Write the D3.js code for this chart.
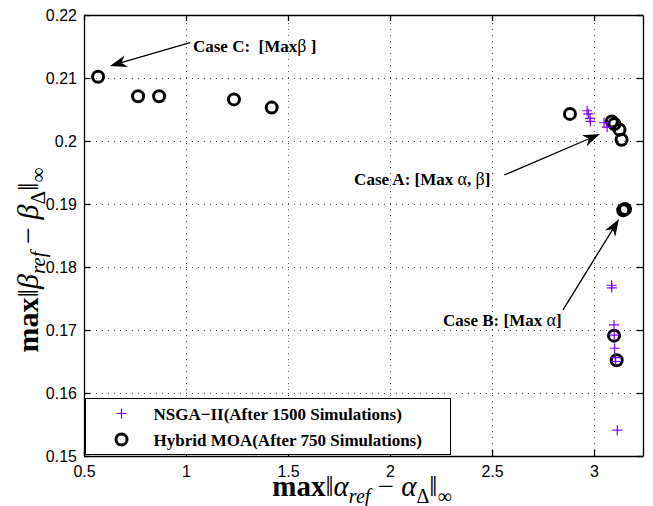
<!DOCTYPE html>
<html>
<head>
<meta charset="utf-8">
<script src="https://cdn.jsdelivr.net/npm/d3@7"></script>
<style>
body { margin: 0; background: #fff; }
svg { display: block; background: #fff; }
.axis text { font-family: "Liberation Sans", Arial, sans-serif; font-size: 16px; fill: #000; }
.axis path, .axis line { stroke: #000; stroke-width: 1.3; }
.grid line { stroke: #555; stroke-width: 1; stroke-dasharray: 1,5; }
.anno { font-family: "Liberation Serif", "Times New Roman", serif; font-size: 17px; font-weight: bold; white-space: pre; }
.legend_label { font-family: "Liberation Serif", "Times New Roman", serif; font-size: 17px; font-weight: bold; }
.axlabel { font-family: "Liberation Serif", "Times New Roman", serif; font-size: 29px; }
</style>
</head>
<body>
<div id="Chart"></div>
<script>
// NSGA-II (after 1500 simulations)
var nsgaX = [2.966, 2.972, 2.98, 2.982, 3.049, 3.064, 3.086, 3.087, 3.098, 3.099, 3.101, 3.104, 3.106, 3.114];
var nsgaY = [0.2048, 0.2043, 0.2036, 0.2031, 0.2029, 0.2022, 0.1771, 0.1767, 0.1708, 0.1692, 0.1671, 0.1656, 0.1650, 0.1541];
// Hybrid MOA (after 750 simulations)
var moaX = [0.569, 0.765, 0.868, 1.235, 1.42, 2.882, 3.087, 3.1, 3.125, 3.135, 3.143, 3.152, 3.098, 3.111];
var moaY = [0.2102, 0.2071, 0.2071, 0.2066, 0.2053, 0.2043, 0.2031, 0.2027, 0.2018, 0.2002, 0.1890, 0.1892, 0.1691, 0.1652];

var xTicks = [0.5, 1, 1.5, 2, 2.5, 3];
var xTickLabels = ["0.5", "1", "1.5", "2", "2.5", "3"];
var yTicks = [0.15, 0.16, 0.17, 0.18, 0.19, 0.2, 0.21, 0.22];
var yTickLabels = ["0.15", "0.16", "0.17", "0.18", "0.19", "0.2", "0.21", "0.22"];

var seriesNames = ["NSGA\u2212II(After 1500 Simulations)", "Hybrid MOA(After 750 Simulations)"];

// annotations (data coordinates)
var annoText = ["Case C:  [Max|\u03b2| ]", "Case A: [Max |\u03b1|, |\u03b2|]", "Case B: [Max |\u03b1|]"];
var annoX = [1.034, 1.824, 2.26];
var annoY = [0.2141, 0.1930, 0.1706];
var arrowFromX = [1.02, 2.56, 2.848];
var arrowFromY = [0.2156, 0.1946, 0.1732];
var arrowToX = [0.627, 3.029, 3.1225];
var arrowToY = [0.2119, 0.2011, 0.1876];

var margin = {top: 15, right: 10, bottom: 50, left: 84},
    width = 643 - margin.left,
    height = 456 - margin.top;

var svg = d3.select("#Chart")
            .append("svg")
            .attr("width", 653)
            .attr("height", 506);

var x = d3.scaleLinear().domain([0.5, 3.24]).range([0, width]);
var y = d3.scaleLinear().domain([0.15, 0.22]).range([height, 0]);

var g = svg.append("g")
           .attr("transform", "translate(" + margin.left + "," + margin.top + ")");

// dotted grid
g.append("g")
 .attr("class", "grid")
 .attr("transform", "translate(0," + height + ")")
 .call(d3.axisBottom(x).tickValues(xTicks.slice(1)).tickSize(-height).tickFormat(""))
 .select(".domain").remove();
g.append("g")
 .attr("class", "grid")
 .call(d3.axisLeft(y).tickValues(yTicks.slice(1, -1)).tickSize(-width).tickFormat(""))
 .select(".domain").remove();

// axes, ticks pointing inward on all sides
g.append("g")
 .attr("class", "axis")
 .attr("transform", "translate(0," + height + ")")
 .call(d3.axisBottom(x).tickValues(xTicks).tickFormat((d, i) => xTickLabels[i])
        .tickSizeInner(-6).tickSizeOuter(0).tickPadding(10));
g.append("g")
 .attr("class", "axis")
 .call(d3.axisLeft(y).tickValues(yTicks).tickFormat((d, i) => yTickLabels[i])
        .tickSizeInner(-6).tickSizeOuter(0).tickPadding(7));
g.append("g")
 .attr("class", "axis")
 .call(d3.axisTop(x).tickValues(xTicks).tickFormat("").tickSizeInner(-6).tickSizeOuter(0));
g.append("g")
 .attr("class", "axis")
 .attr("transform", "translate(" + width + ",0)")
 .call(d3.axisRight(y).tickValues(yTicks).tickFormat("").tickSizeInner(-6).tickSizeOuter(0));

// Hybrid MOA circles
g.selectAll("circle.moa")
 .data(moaX)
 .enter()
 .append("circle")
 .attr("class", "moa")
 .attr("cx", d => x(d))
 .attr("cy", (d, i) => y(moaY[i]))
 .attr("r", 5.5)
 .attr("fill", "none")
 .attr("stroke", "#000")
 .attr("stroke-width", 3);

// NSGA-II plus markers
var plus = "M-5,0H5M0,-5V5";
g.selectAll("path.nsga")
 .data(nsgaX)
 .enter()
 .append("path")
 .attr("class", "nsga")
 .attr("transform", (d, i) => "translate(" + x(d) + "," + y(nsgaY[i]) + ")")
 .attr("d", plus)
 .attr("stroke", "#8000ff")
 .attr("stroke-width", 1.2)
 .attr("fill", "none");

// arrows
function drawArrow(x1, y1, x2, y2){
    var px1 = x(x1), py1 = y(y1), px2 = x(x2), py2 = y(y2);
    var ang = Math.atan2(py2 - py1, px2 - px1) * 180 / Math.PI;
    var len = Math.hypot(px2 - px1, py2 - py1);
    var a = g.append("g").attr("transform", "translate(" + px1 + "," + py1 + ") rotate(" + ang + ")");
    a.append("line").attr("x1", 0).attr("y1", 0).attr("x2", len - 10).attr("y2", 0)
     .attr("stroke", "#000").attr("stroke-width", 1.3);
    a.append("path")
     .attr("d", "M" + len + ",0L" + (len - 17) + ",-6L" + (len - 12) + ",0L" + (len - 17) + ",6Z")
     .attr("fill", "#000");
}
for (var i = 0; i < annoText.length; i++){
    drawArrow(arrowFromX[i], arrowFromY[i], arrowToX[i], arrowToY[i]);
    var t = g.append("text").attr("class", "anno")
             .attr("x", x(annoX[i])).attr("y", y(annoY[i]));
    // greek letters are set in a plain (non-bold) face
    annoText[i].split("|").forEach(function(part, k){
        var s = t.append("tspan").text(part);
        if (k % 2 == 1) s.attr("font-weight", "normal").attr("font-size", 18);
    });
}

// legend
var leg = svg.append("g").attr("transform", "translate(85.5,398.5)");
leg.append("rect").attr("width", 365).attr("height", 56)
   .attr("fill", "#fff").attr("stroke", "#000").attr("stroke-width", 1);
leg.append("path").attr("transform", "translate(36,15)").attr("d", plus)
   .attr("stroke", "#8000ff").attr("stroke-width", 1.2);
leg.append("circle").attr("cx", 36).attr("cy", 41).attr("r", 5.5)
   .attr("fill", "none").attr("stroke", "#000").attr("stroke-width", 3);
leg.selectAll("legend_label")
   .data(seriesNames)
   .enter()
   .append("text")
   .attr("class", "legend_label")
   .attr("x", 68)
   .attr("y", (d, i) => 21 + i * 26)
   .text(d => d);

// axis labels
function mathLabel(sel, sym, sub){
    sel.append("tspan").attr("font-weight", "bold").text("max");
    sel.append("tspan").text("\u2016");
    sel.append("tspan").attr("font-style", "italic").text(sym);
    sel.append("tspan").attr("font-style", "italic").attr("font-size", sub).attr("dy", 7).text("ref");
    sel.append("tspan").attr("dy", -7).text(" \u2212 ");
    sel.append("tspan").attr("font-style", "italic").text(sym);
    sel.append("tspan").attr("font-size", sub).attr("dy", 7).text("\u0394");
    sel.append("tspan").attr("dy", -7).text("\u2016");
    sel.append("tspan").attr("font-size", sub).attr("dy", 7).text("\u221e");
}
var xl = svg.append("text").attr("class", "axlabel")
            .attr("x", 362).attr("y", 496).attr("text-anchor", "middle");
mathLabel(xl, "\u03b1", 20);
var yl = svg.append("text").attr("class", "axlabel")
            .style("font-size", "30px")
            .attr("transform", "translate(38,260) rotate(-90)").attr("text-anchor", "middle");
mathLabel(yl, "\u03b2", 21);
</script>
</body>
</html>
